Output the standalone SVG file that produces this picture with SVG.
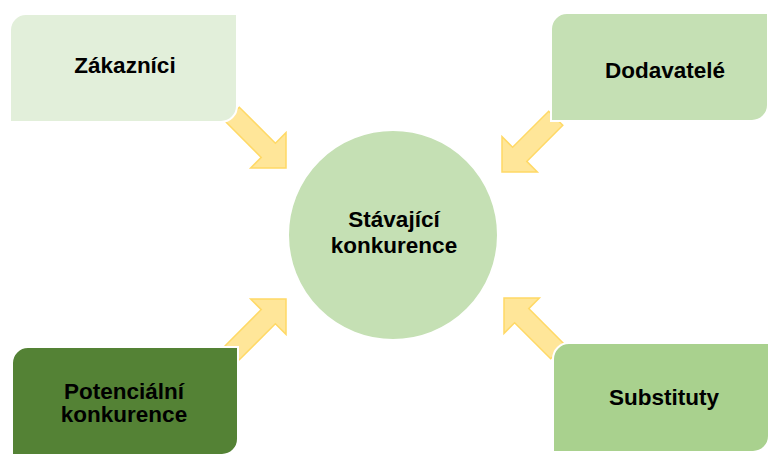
<svg xmlns="http://www.w3.org/2000/svg" width="769" height="454" viewBox="0 0 769 454">
<style>
.lbl{font-family:"Liberation Sans",Arial,sans-serif;font-weight:bold;font-size:22.5px;fill:#000;text-anchor:middle}
.box{stroke:#fff;stroke-width:2}
.arr{fill:#ffe699;stroke:#ffd966;stroke-width:1.5;stroke-linejoin:miter}
</style>
<defs>
<path id="arrow" d="M0,0 L-25,-25 L-25,-10 L-76,-10 L-76,10 L-25,10 L-25,25 Z"/>
</defs>
<rect width="769" height="454" fill="#fff"/>
<g id="connectors">
<use href="#arrow" class="arr" transform="translate(286,168) rotate(45)"/>
<use href="#arrow" class="arr" transform="translate(502,172) rotate(135)"/>
<use href="#arrow" class="arr" transform="translate(286,299) rotate(-45)"/>
<use href="#arrow" class="arr" transform="translate(504,298) rotate(-135)"/>
</g>
<g id="zakaznici">
<path class="box" fill="#e2efda" d="M26,14 H237 V106 A16,16 0 0 1 221,122 H10 V30 A16,16 0 0 1 26,14 Z"/>
<text class="lbl" x="125" y="73">Zákazníci</text>
</g>
<g id="dodavatele">
<path class="box" fill="#c5e0b4" d="M567,13 H768 V105 A16,16 0 0 1 752,121 H551 V29 A16,16 0 0 1 567,13 Z"/>
<text class="lbl" x="665" y="78">Dodavatelé</text>
</g>
<g id="potencialni">
<path class="box" fill="#548235" d="M28,347 H238 V439 A16,16 0 0 1 222,455 H12 V363 A16,16 0 0 1 28,347 Z"/>
<text class="lbl" x="124" y="399">Potenciální</text>
<text class="lbl" x="124" y="422">konkurence</text>
</g>
<g id="substituty">
<path class="box" fill="#a9d18e" d="M569,343 H769 V436 A16,16 0 0 1 753,452 H553 V359 A16,16 0 0 1 569,343 Z"/>
<text class="lbl" x="664" y="405">Substituty</text>
</g>
<g id="stavajici">
<circle class="box" cx="393" cy="235" r="105" fill="#c5e0b4"/>
<text class="lbl" x="394" y="227">Stávající</text>
<text class="lbl" x="394" y="253">konkurence</text>
</g>
</svg>
